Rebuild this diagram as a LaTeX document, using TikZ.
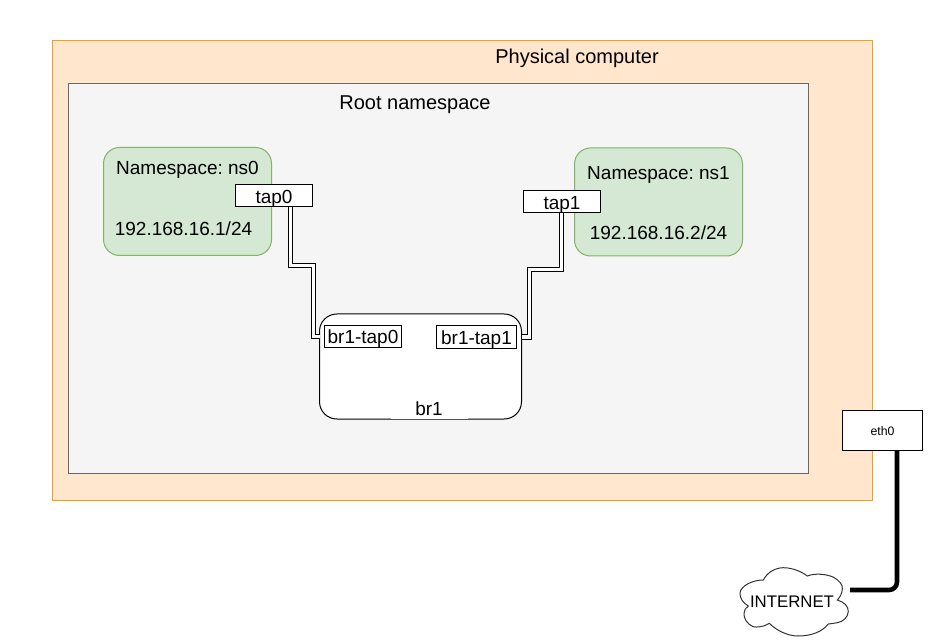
\documentclass[tikz,border=0pt]{standalone}
\usepackage{fontspec}
\setmainfont{Liberation Sans}
\frenchspacing
\definecolor{physfill}{HTML}{FFE6CC}
\definecolor{physline}{HTML}{F0A30A}
\definecolor{rootfill}{HTML}{F5F5F5}
\definecolor{rootline}{HTML}{666666}
\definecolor{nsfill}{HTML}{D5E8D4}
\definecolor{nsline}{HTML}{82B366}
\newcommand{\fs}[1]{\fontsize{#1pt}{#1pt}\selectfont}
\tikzset{
  px/.style={x=0.75pt,y=-0.75pt},
  box/.style={draw,anchor=north west,inner sep=0pt,outer sep=0pt,line width=0.75pt},
  phys/.style={box,draw=physline,fill=physfill},
  rootns/.style={box,draw=rootline,fill=rootfill},
  nsbox/.style={box,draw=nsline,fill=nsfill,rounded corners=12pt},
  tapbox/.style={box,draw=black,fill=white},
  bridge/.style={box,draw=black,fill=white,rounded corners=13pt},
  lbl/.style={inner sep=0pt,anchor=mid,font=\fs{14.25},yshift=-2.7pt},
  biglbl/.style={lbl,font=\fs{15}},
  link/.style={double=white,draw=black,line width=0.75pt,double distance=2.6pt},
  uplink/.style={line width=3.4pt,draw=black,rounded corners=6pt},
}
\begin{document}
\begin{tikzpicture}[px]
\useasboundingbox (0,0) rectangle (935,641);
\fill[white] (0,0) rectangle (935,641);
\node[phys,minimum width=615pt,minimum height=345pt] (computer) at (52.5,40.5) {};
\node[rootns,minimum width=555pt,minimum height=292.5pt] (root) at (68.5,83.5) {};
\node[biglbl] (computerlabel) at (577,56) {Physical computer};
\node[biglbl] (rootlabel) at (415,102) {Root namespace};
\node[nsbox,minimum width=126pt,minimum height=81pt] (ns0) at (103.5,147.5) {};
\node[nsbox,minimum width=126pt,minimum height=81pt] (ns1) at (574.5,148) {};
\node[lbl] (ns0name) at (187.5,167) {Namespace: ns0};
\node[lbl] (ns0ip) at (183.5,228) {192.168.16.1/24};
\node[lbl] (ns1name) at (658.5,172.5) {Namespace: ns1};
\node[lbl] (ns1ip) at (658.5,232.5) {192.168.16.2/24};
\node[bridge,minimum width=151.5pt,minimum height=78.75pt] (br1) at (319.5,314) {};
\fill[white] (391,400) rectangle (468,419);
\node[tapbox,minimum width=57.75pt,minimum height=16.5pt] (tap0) at (235.5,185) {};
\node[tapbox,minimum width=57.75pt,minimum height=16.5pt] (tap1) at (523.5,191) {};
\node[lbl] at (tap0.center) {tap0};
\node[lbl] at (tap1.center) {tap1};
\node[tapbox,minimum width=57.75pt,minimum height=16.5pt] (brtap0) at (324.5,325.5) {};
\node[tapbox,minimum width=60pt,minimum height=17.25pt] (brtap1) at (436.5,325.5) {};
\node[lbl] at (brtap0.center) {br1-tap0};
\node[lbl] at (brtap1.center) {br1-tap1};
\node[lbl] (br1label) at (429,408) {br1};
\node[tapbox,minimum width=60pt,minimum height=30pt] (eth0) at (842.5,410.5) {};
\node[lbl,font=\fs{9.2},yshift=1.9pt] at (eth0.center) {eth0};
\coordinate (a1) at (290.5,265.5);
\coordinate (a2) at (313.7,336.5);
\coordinate (b1) at (561.5,269.5);
\coordinate (b2) at (529.5,337);
\draw[link] (tap0.south -| a1) -- (a1) -- (a2 |- a1) -- (a2) -- (a2 -| br1.west);
\draw[link] (tap1.south -| b1) -- (b1) -- (b2 |- b1) -- (b2) -- (b2 -| br1.east);
% cloud
\draw[line width=0.75pt,draw=black!80,fill=white]
  (763.3,580) .. controls (768,571) and (777,567.7) .. (783.3,567.7)
  .. controls (793,567.7) and (802,572) .. (807.3,576)
  .. controls (815,573) and (826,574) .. (833,577)
  .. controls (840,581) and (843,585) .. (842.3,589)
  .. controls (842,594) and (840,597) .. (837.3,600)
  .. controls (844,602) and (848.5,606) .. (848.3,611.7)
  .. controls (848,617) and (843,622) .. (837.3,622.7)
  .. controls (834,623.5) and (831,623.5) .. (828.3,624)
  .. controls (822,632) and (811,636) .. (798,636)
  .. controls (787,636) and (776,630) .. (769.3,623.3)
  .. controls (764,627) and (757,627.5) .. (753,626.7)
  .. controls (747,624) and (743.5,618) .. (744,613.3)
  .. controls (744,610) and (746,607.5) .. (748.3,606)
  .. controls (743,603) and (739.5,598) .. (740,592.7)
  .. controls (741,586) and (752,580) .. (763.3,580) -- cycle;
\node[lbl,font=\fs{12.6}] (internet) at (792,600) {INTERNET};
\coordinate (inetend) at (850,590);
\draw[uplink] (eth0.south -| 897,0) -- (897,590) -- (inetend);
\end{tikzpicture}
\end{document}
